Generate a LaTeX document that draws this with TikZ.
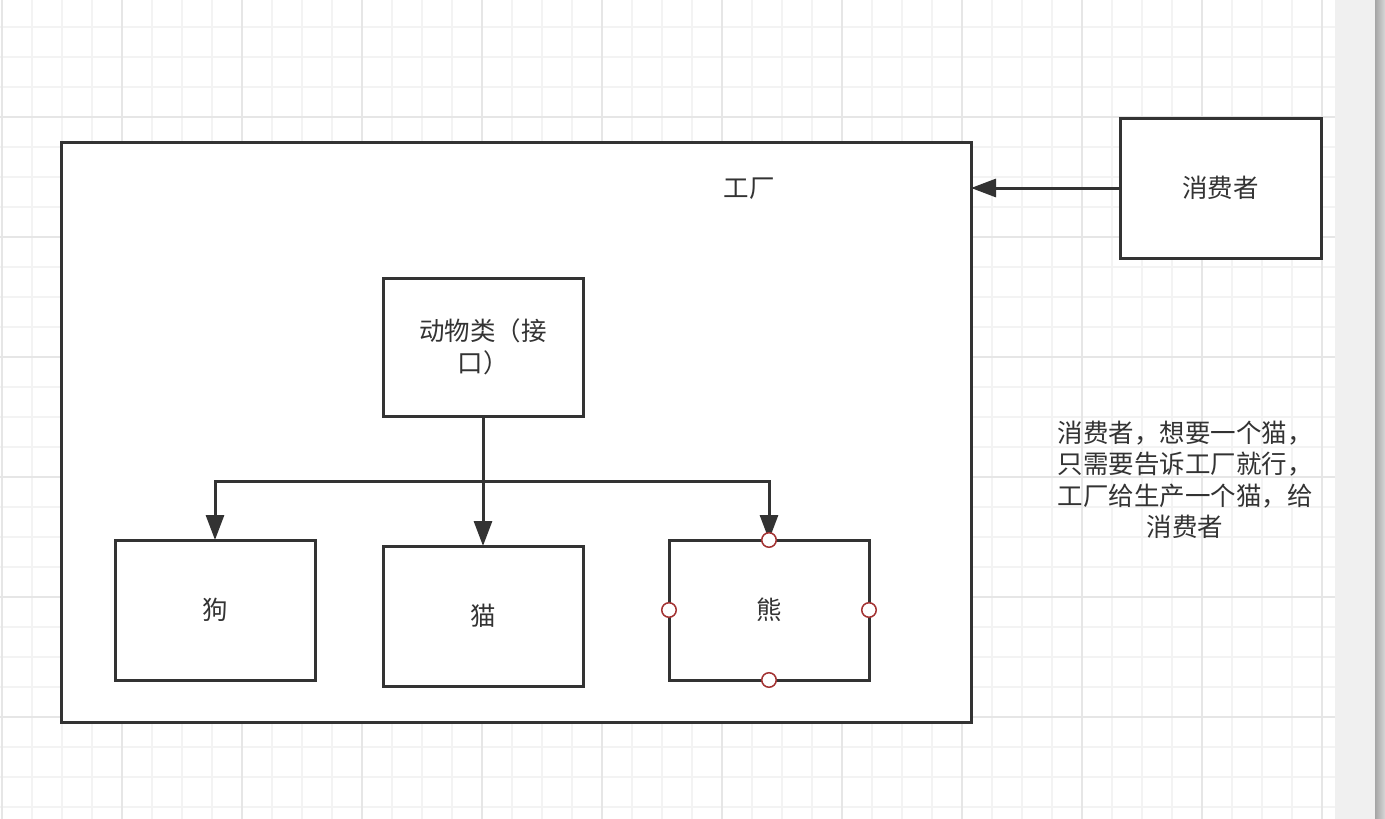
\documentclass[tikz,border=0pt]{standalone}
\usepackage{fontspec}
\setmainfont{Noto Sans CJK SC}
\usetikzlibrary{arrows.meta}
\definecolor{ink}{HTML}{333333}
\definecolor{gminor}{HTML}{F3F3F3}
\definecolor{gmajor}{HTML}{E6E6E6}
\definecolor{hdl}{HTML}{A33333}
\definecolor{panel}{HTML}{F0F0F0}
\definecolor{sbdark}{HTML}{A5A5A5}
\definecolor{sblight}{HTML}{D7D7D7}
\tikzset{
  box/.style={draw=ink, line width=3pt, fill=white, minimum width=200pt, minimum height=140pt, inner sep=0pt, outer sep=0pt, text=ink, font=\fontsize{25.5}{32}\selectfont},
  lbl/.style={text=ink, font=\fontsize{25.5}{31.5}\selectfont, inner sep=0pt, align=center},
  conn/.style={draw=ink, line width=3pt, -{Triangle[length=25pt,width=18pt]}},
  hdlc/.style={circle, draw=hdl, line width=1.5pt, fill=white, minimum size=14.5pt, inner sep=0pt},
}
\begin{document}
\begin{tikzpicture}[x=1pt,y=-1pt]
\useasboundingbox (0,0) rectangle (1385,819);
\fill[white] (0,0) rectangle (1385,819);
% grid
\foreach \i in {0,...,44} {\draw[gminor, line width=1.2pt] ({2+30*\i},0) -- ({2+30*\i},819);}
\foreach \j in {0,...,27} {\draw[gminor, line width=1.2pt] (0,{-3+30*\j}) -- (1335,{-3+30*\j});}
\foreach \i in {0,...,11} {\draw[gmajor, line width=1.2pt] ({2+120*\i},0) -- ({2+120*\i},819);}
\foreach \j in {0,...,7} {\draw[gmajor, line width=1.2pt] (0,{-3+120*\j}) -- (1335,{-3+120*\j});}
\fill[panel] (1335,0) rectangle (1385,819);
\shade[left color=sbdark, right color=sblight] (1375,0) rectangle (1385,819);
% boxes
\node[box, minimum width=910pt, minimum height=580pt] (factory) at (516,432) {};
\node[lbl] (factorylbl) at (749,189) {工厂};
\node[box, minimum width=201pt] (consumer) at (1220.5,188) {消费者};
\node[box, minimum height=138pt, align=center] (iface) at (483,347) {动物类（接\\口）};
\node[box] (dog) at (215,610) {狗};
\node[box] (cat) at (483,616) {猫};
\node[box] (bear) at (769,610) {熊};
\node[lbl] (note) at (1185,480) {消费者，想要一个猫，\\只需要告诉工厂就行，\\工厂给生产一个猫，给\\消费者};
% connectors
\draw[conn] (consumer.west) -- (factory.east |- consumer.west);
\coordinate (junc) at (483,481);
\draw[conn] (iface.south) -- (cat.north);
\draw[draw=ink, line width=3pt, line cap=butt] (junc -| dog.north) -- (junc -| bear.north);
\draw[conn] (junc) -| (dog.north);
\draw[conn] (junc) -| (bear.north);
% handles
\node[hdlc] (h1) at (bear.north) {};
\node[hdlc] (h2) at (bear.south) {};
\node[hdlc] (h3) at (bear.west) {};
\node[hdlc] (h4) at (bear.east) {};
\end{tikzpicture}
\end{document}
